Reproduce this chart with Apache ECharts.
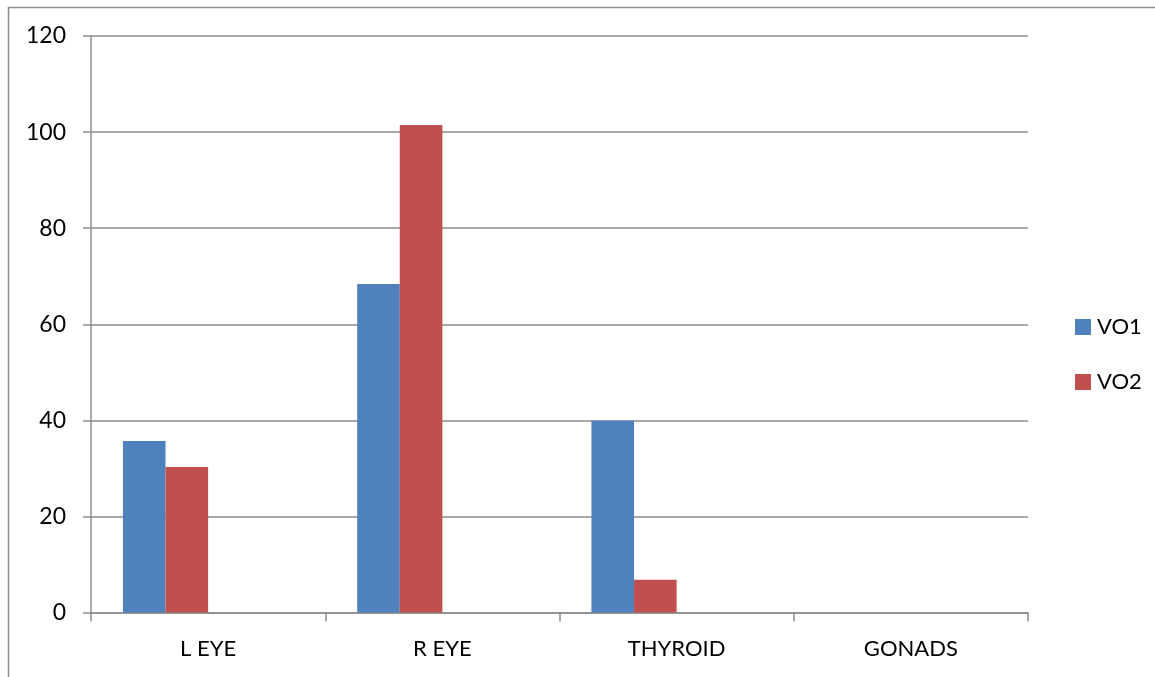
<!DOCTYPE html>
<html>
<head>
<meta charset="utf-8">
<script src="https://cdn.jsdelivr.net/npm/echarts@6/dist/echarts.min.js"></script>
<style>
  html, body { margin: 0; padding: 0; background: #fff; }
  #chart { width: 1155px; height: 677px; }
</style>
</head>
<body>
<div id="chart"></div>
<script>
// Organ dose readings per site
const categories = ['L EYE', 'R EYE', 'THYROID', 'GONADS'];
const vo1 = [35.7, 68.4, 39.9, 0];
const vo2 = [30.3, 101.5, 6.8, 0];
const yTicks = { min: 0, max: 120, interval: 20 };

const FONT = 'Lato, "Liberation Sans", sans-serif';
const FONT_SIZE = 22;
const GRID_COLOR = '#8c8c8c';

const chart = echarts.init(document.getElementById('chart'), null, { renderer: 'canvas' });

// two empty slots keep the four-slot cluster spacing of the original layout
const emptySlot = categories.map(() => '-');

chart.setOption({
  animation: false,
  backgroundColor: '#fff',
  graphic: [{
    type: 'rect',
    shape: { x: 8.5, y: 7.5, width: 1160, height: 680 },
    style: { fill: 'none', stroke: '#8c8c8c', lineWidth: 1.5 },
    silent: true
  }],
  grid: { left: 91, right: 127, top: 36, bottom: 64.5, containLabel: false },
  legend: {
    orient: 'vertical',
    left: 1070,
    top: 311,
    data: ['VO1', 'VO2'],
    itemWidth: 16,
    itemHeight: 16,
    itemGap: 33,
    icon: 'rect',
    textStyle: { fontFamily: FONT, fontSize: FONT_SIZE, color: '#000', padding: [2, 0, 0, 1] }
  },
  xAxis: {
    type: 'category',
    data: categories,
    axisLine: { lineStyle: { color: GRID_COLOR, width: 1.5 } },
    axisTick: { show: true, alignWithLabel: false, length: 9, lineStyle: { color: GRID_COLOR, width: 1.5 } },
    axisLabel: { fontFamily: FONT, fontSize: FONT_SIZE, color: '#000', margin: 25 },
    splitLine: { show: false }
  },
  yAxis: {
    type: 'value',
    min: yTicks.min,
    max: yTicks.max,
    interval: yTicks.interval,
    axisLine: { show: true, lineStyle: { color: GRID_COLOR, width: 1.5 } },
    axisTick: { show: true, length: 8, lineStyle: { color: GRID_COLOR, width: 1.5 } },
    axisLabel: { fontFamily: FONT, fontSize: FONT_SIZE + 1, color: '#000', margin: 25 },
    splitLine: { show: true, lineStyle: { color: GRID_COLOR, width: 1.5 } }
  },
  series: [
    { name: 'VO1', type: 'bar', data: vo1, barGap: '0%', barCategoryGap: '27.27%',
      itemStyle: { color: '#4F81BD' } },
    { name: 'VO2', type: 'bar', data: vo2, barGap: '0%', barCategoryGap: '27.27%',
      itemStyle: { color: '#C0504D' } },
    { name: 'slot3', type: 'bar', data: emptySlot, barGap: '0%', barCategoryGap: '27.27%' },
    { name: 'slot4', type: 'bar', data: emptySlot, barGap: '0%', barCategoryGap: '27.27%' }
  ]
});
</script>
</body>
</html>
